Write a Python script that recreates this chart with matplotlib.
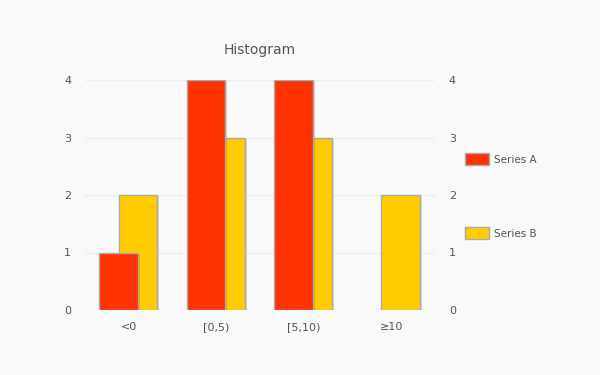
import numpy as np
import matplotlib.pyplot as plt
from matplotlib.patches import Patch
import matplotlib.patheffects as pe

categories = ["<0", "[0,5)", "[5,10)", "≥10"]
series_a = [1, 4, 4, 0]
series_b = [2, 3, 3, 2]
labels = ["Series A", "Series B"]
colors = ["#ff3300", "#ffcc00"]

bg = "#f9f9f9"
txt = "#555555"
edge = "#aaaaaa"

plt.rcParams["font.family"] = "DejaVu Sans"

fig = plt.figure(figsize=(6, 3.75), dpi=100, facecolor=bg)
ax = fig.add_axes([85 / 600, 65 / 375, 350 / 600, 230 / 375])
ax.set_facecolor(bg)

x = np.arange(len(categories))
w = 0.44
shadow = [pe.SimplePatchShadow(offset=(1.5, -1.5), alpha=0.15), pe.Normal()]
bars_b = ax.bar(x + 0.106, series_b, w, color=colors[1], edgecolor=edge,
                linewidth=1, zorder=2)
bars_a = ax.bar(x - 0.117, series_a, w, color=colors[0], edgecolor=edge,
                linewidth=1, zorder=3)
for b in list(bars_a) + list(bars_b):
    b.set_path_effects(shadow)
    if b.get_height() == 0:
        b.set_visible(False)

ax.set_xlim(-0.5, 3.5)
ax.set_ylim(0, 4)
ax.set_yticks([0, 1, 2, 3, 4])
ax.set_xticks(x)
ax.set_xticklabels(categories)
ax.grid(axis="y", color="#eeeeee", linewidth=1, zorder=0)
ax.set_axisbelow(True)
for s in ax.spines.values():
    s.set_visible(False)
ax.tick_params(length=0, colors=txt, labelsize=8, pad=10)
ax.tick_params(axis="x", pad=9)

ax2 = ax.twinx()
ax2.set_ylim(0, 4)
ax2.set_yticks([0, 1, 2, 3, 4])
for s in ax2.spines.values():
    s.set_visible(False)
ax2.tick_params(length=0, colors=txt, labelsize=8, pad=10)

ax.set_title("Histogram", color=txt, fontsize=10, pad=19)

handles = [Patch(facecolor=c, edgecolor=edge, label=l) for c, l in zip(colors, labels)]
leg = fig.legend(handles=handles, loc="upper left", bbox_to_anchor=(460 / 600, 1 - 148 / 375),
                 frameon=False, fontsize=7.5, labelspacing=5.95, handlelength=2.3,
                 handleheight=1.4, handletextpad=0.5, borderpad=0)
for t in leg.get_texts():
    t.set_color(txt)

plt.savefig("out.png", dpi=100, facecolor=bg)
